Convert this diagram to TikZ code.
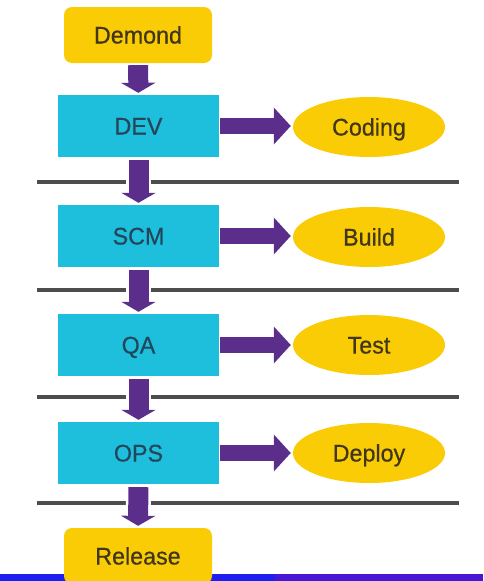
\documentclass[tikz,border=0pt]{standalone}
\usepackage{fontspec}
\setmainfont{Liberation Sans}
\newfontfamily\stagefont{Liberation Sans}[FakeBold=0.6,FakeStretch=0.97]
\usetikzlibrary{arrows.meta,shapes.geometric}
\definecolor{stagegold}{HTML}{FACC05}
\definecolor{goldtext}{HTML}{41361A}
\definecolor{stagecyan}{HTML}{1DBFDD}
\definecolor{cyantext}{HTML}{24465A}
\definecolor{flowpurple}{HTML}{5B2E8C}
\definecolor{sepgray}{HTML}{4D4D4D}
\definecolor{barblue}{HTML}{1E1EF0}
\definecolor{barpurple}{HTML}{4A16D6}

\begin{document}
\begin{tikzpicture}[x=1pt,y=-1pt,
  every node/.style={font=\stagefont\fontsize{24}{28}\selectfont,text height=17pt,text depth=0pt,inner sep=0pt},
  endbox/.style={rectangle,rounded corners=8pt,fill=stagegold,text=goldtext,minimum width=148pt,minimum height=56pt},
  stagebox/.style={rectangle,fill=stagecyan,text=cyantext,minimum width=161pt,minimum height=62pt},
  taskoval/.style={ellipse,fill=stagegold,text=goldtext,minimum width=152pt,minimum height=60pt},
  downarrow/.style={draw=flowpurple,line width=20pt,-{Triangle[length=10pt,width=34pt]},
    preaction={draw=white,line width=25pt,-}},
  rightarrow/.style={draw=flowpurple,line width=16pt,-{Triangle[length=17pt,width=36pt]}},
  sepline/.style={draw=sepgray,line width=4pt}]
\useasboundingbox (0,0) rectangle (483,581);
% bottom bar
\fill[barblue] (0,574) rectangle (275,581);
\fill[barpurple] (275,574) rectangle (483,581);
% separators
\foreach \y in {182,290,397,503}
  \draw[sepline] (37,\y) -- (459,\y);
% stages
\node[endbox] (demond) at (138,35) {Demond};
\node[stagebox] (dev) at (138.5,126) {DEV};
\node[stagebox] (scm) at (138.5,236) {SCM};
\node[stagebox] (qa) at (138.5,345) {QA};
\node[stagebox] (ops) at (138.5,453) {OPS};
\node[endbox] (release) at (138,556) {Release};
% tasks
\node[taskoval] (coding) at (369,127) {Coding};
\node[taskoval] (build) at (369,237) {Build};
\node[taskoval] (test) at (369,345) {Test};
\node[taskoval] (deploy) at (369,453) {Deploy};
% flow
\draw[downarrow,shorten <=2pt,shorten >=2pt] (demond) -- (dev);
\draw[downarrow,shorten <=3pt,shorten >=2pt] (dev) -- (scm);
\draw[downarrow,shorten <=3pt,shorten >=2pt] (scm) -- (qa);
\draw[downarrow,shorten <=3pt,shorten >=2pt] (qa) -- (ops);
\draw[downarrow,shorten <=3pt,shorten >=2pt] (ops) -- (release);
\foreach \s/\t in {dev/coding,scm/build,qa/test,ops/deploy}
  \draw[rightarrow,shorten <=1pt,shorten >=2pt] (\s.east) -- (\s.east -| \t.west);
\end{tikzpicture}
\end{document}
